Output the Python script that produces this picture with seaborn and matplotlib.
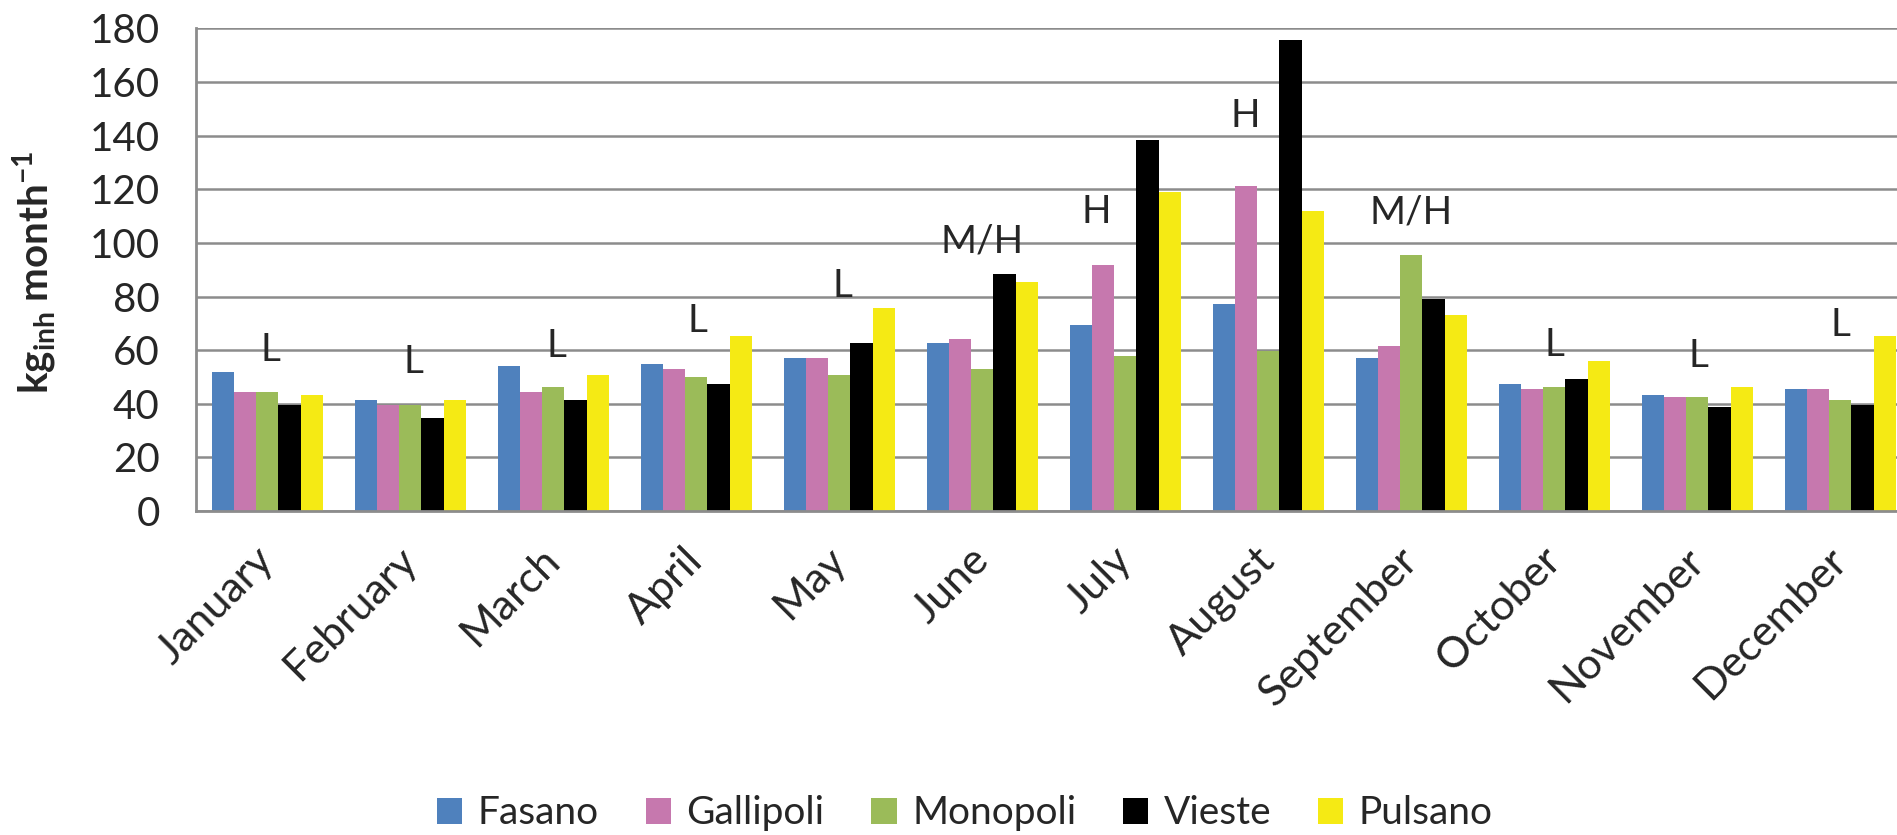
import numpy as np
import pandas as pd
import matplotlib
matplotlib.use('Agg')
import matplotlib.pyplot as plt
import matplotlib.ticker as mticker
import seaborn as sns

months = ['January', 'February', 'March', 'April', 'May', 'June',
          'July', 'August', 'September', 'October', 'November', 'December']
sites = ['Fasano', 'Gallipoli', 'Monopoli', 'Vieste', 'Pulsano']

fasano = [52.0, 41.3, 53.9, 54.8, 56.9, 62.5, 69.5, 77.3, 57.1, 47.2, 43.1, 45.4]
gallipoli = [44.4, 39.4, 44.4, 52.8, 56.9, 64.3, 91.9, 121.4, 61.6, 45.4, 42.4, 45.4]
monopoli = [44.4, 39.4, 46.1, 49.8, 50.9, 52.8, 57.9, 59.8, 95.6, 46.1, 42.4, 41.3]
vieste = [39.4, 34.6, 41.3, 47.2, 62.5, 88.5, 138.2, 175.5, 79.2, 49.1, 38.7, 39.4]
pulsano = [43.1, 41.3, 50.9, 65.4, 75.8, 85.5, 118.8, 112.0, 73.2, 55.8, 46.1, 65.4]

# class labels above each month, with the height (data units) they sit at
season_labels = ['L', 'L', 'L', 'L', 'L', 'M/H', 'H', 'H', 'M/H', 'L', 'L', 'L']
label_y = [60.2, 55.4, 61.7, 71.0, 83.8, 100.7, 111.4, 147.3, 111.2, 61.8, 57.7, 69.3]
label_dx = [0.02, 0.02, 0.02, 0.01, 0.02, 0.0, -0.2, -0.16, 0.0, 0.0, 0.01, 0.0]

colors = ['#4F81BD', '#C678AE', '#9BBB59', '#000000', '#F5EA14']
grid_gray = '#8C8C8C'

values = {'Fasano': fasano, 'Gallipoli': gallipoli, 'Monopoli': monopoli,
          'Vieste': vieste, 'Pulsano': pulsano}
rows = []
for site in sites:
    for m, v in zip(months, values[site]):
        rows.append({'month': m, 'site': site, 'value': v})
df = pd.DataFrame(rows)

sns.set_style('white')
plt.rcParams['font.family'] = ['Lato', 'DejaVu Sans']
plt.rcParams['mathtext.fontset'] = 'custom'
plt.rcParams['mathtext.rm'] = 'Lato'
plt.rcParams['mathtext.bf'] = 'Lato:bold'

fig = plt.figure(figsize=(18.97, 8.35), dpi=100)
ax = fig.add_axes([0.1032, 0.388, 0.9046, 0.578])

sns.barplot(data=df, x='month', y='value', hue='site', palette=colors,
            width=0.78, saturation=1, linewidth=0, ax=ax, errorbar=None)

ax.set_ylim(0, 180)
ax.set_xlim(-0.5, 11.5)
ax.set_yticks(range(0, 181, 20))
ax.yaxis.grid(True, color=grid_gray, linewidth=1.8)
ax.set_axisbelow(True)
for s in ['top', 'right']:
    ax.spines[s].set_visible(False)
for s in ['left', 'bottom']:
    ax.spines[s].set_color(grid_gray)
    ax.spines[s].set_linewidth(2)

ax.set_xlabel('')
ax.set_ylabel('')
ax.tick_params(axis='y', length=9, width=1.8, color=grid_gray, pad=17, labelsize=29)
ax.tick_params(axis='x', which='major', length=0, labelsize=31, pad=31)
ax.xaxis.set_minor_locator(mticker.FixedLocator(np.arange(-0.5, 12, 1)))
ax.tick_params(axis='x', which='minor', length=11, width=1.8, color=grid_gray)
plt.setp(ax.get_xticklabels(), rotation=45, ha='right', va='center',
         rotation_mode='anchor')

for i, (lab, y, dx) in enumerate(zip(season_labels, label_y, label_dx)):
    ax.text(i + dx, y, lab, ha='center', va='center', fontsize=28)

fig.text(35 / 1897, 1 - 272 / 835, r'kg$_{\mathbf{inh}}$ month$^{\mathbf{-1}}$',
         rotation=90, ha='center', va='center', fontsize=29, fontweight='bold')

handles, labels = ax.get_legend_handles_labels()
ax.get_legend().remove()
fig.legend(handles, labels, loc='center', bbox_to_anchor=(965 / 1897, 0.026),
           ncol=5, frameon=False, fontsize=28, handlelength=0.65, handleheight=0.65,
           handletextpad=0.4, columnspacing=1.2)

fig.savefig('out.png', dpi=100)
